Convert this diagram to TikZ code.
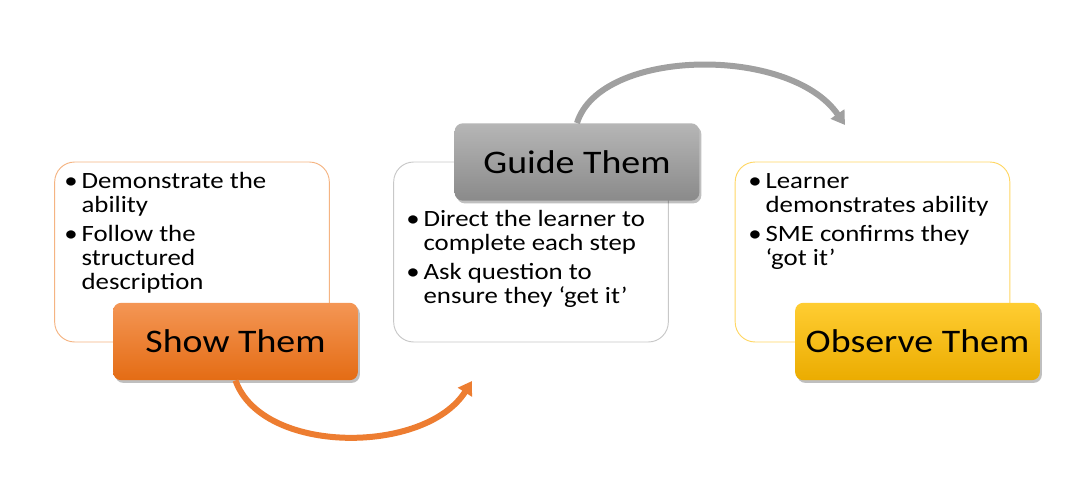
\documentclass[tikz,border=0pt]{standalone}
\usepackage{fontspec}
\setmainfont{Carlito}
\newfontfamily\bodyfont[FakeStretch=1.15]{Carlito}
\usetikzlibrary{arrows.meta,shadows}
\definecolor{orA}{RGB}{244,150,85}
\definecolor{orB}{RGB}{228,108,20}
\definecolor{orLine}{RGB}{245,180,130}
\definecolor{orArrow}{RGB}{237,125,49}
\definecolor{grA}{RGB}{182,182,182}
\definecolor{grB}{RGB}{138,138,138}
\definecolor{grLine}{RGB}{200,200,200}
\definecolor{grArrow}{RGB}{160,160,160}
\definecolor{yeA}{RGB}{255,205,50}
\definecolor{yeB}{RGB}{235,172,0}
\definecolor{yeLine}{RGB}{255,215,100}
\tikzset{
  textbox/.style={draw, line width=0.7pt, fill=white, rounded corners=15pt,
    minimum width=206pt, minimum height=135pt, inner sep=0pt},
  titlebox/.style={rounded corners=6pt, minimum width=183.5pt, minimum height=58pt,
    inner sep=0pt, font=\bodyfont\fontsize{24.7}{28}\selectfont,
    drop shadow={shadow xshift=1.5pt, shadow yshift=-2pt, fill=black, opacity=0.25}},
  bodytext/.style={anchor=base west, inner sep=0pt, font=\bodyfont\fontsize{17.5}{18}\selectfont},
  arc/.style={line width=4.5pt, -{Triangle[length=10pt,width=12pt]}}
}
\newcommand{\bul}{\makebox[13pt][l]{\textbullet}}
\begin{document}
\begin{tikzpicture}[x=0.75pt,y=-0.75pt]
\useasboundingbox (0,0) rectangle (1072,483);
\coordinate (gEnd) at (845,125);
\coordinate (oEnd) at (472,381);
% text boxes
\node[textbox, draw=orLine] (b1) at (192,252) {};
\node[textbox, draw=grLine] (b2) at (531,252) {};
\node[textbox, draw=yeLine] (b3) at (872.5,252) {};
\node[bodytext] (t1) at (64,188) {\begin{tabular}[t]{@{}l@{}l@{}}
\bul & Demonstrate the\\ & ability\\[4pt]
\bul & Follow the\\ & structured\\ & description\end{tabular}};
\node[bodytext] (t2) at (406,226) {\begin{tabular}[t]{@{}l@{}l@{}}
\bul & Direct the learner to\\ & complete each step\\[4pt]
\bul & Ask question to\\ & ensure they ‘get it’\end{tabular}};
\node[bodytext] (t3) at (748,188) {\begin{tabular}[t]{@{}l@{}l@{}}
\bul & Learner\\ & demonstrates ability\\[4pt]
\bul & SME confirms they\\ & ‘got it’\end{tabular}};
% titles
\node[titlebox, top color=orA, bottom color=orB] (show) at (235.5,341.5) {Show Them};
\node[titlebox, top color=grA, bottom color=grB] (guide) at (577,162) {Guide Them};
\node[titlebox, top color=yeA, bottom color=yeB] (obs) at (917.5,341.5) {Observe Them};
% arcs
\draw[arc, draw=grArrow] (guide.north) .. controls (600,48) and (790,45) .. (gEnd);
\draw[arc, draw=orArrow] (show.south) .. controls (262,455) and (425,455) .. (oEnd);
\end{tikzpicture}
\end{document}
